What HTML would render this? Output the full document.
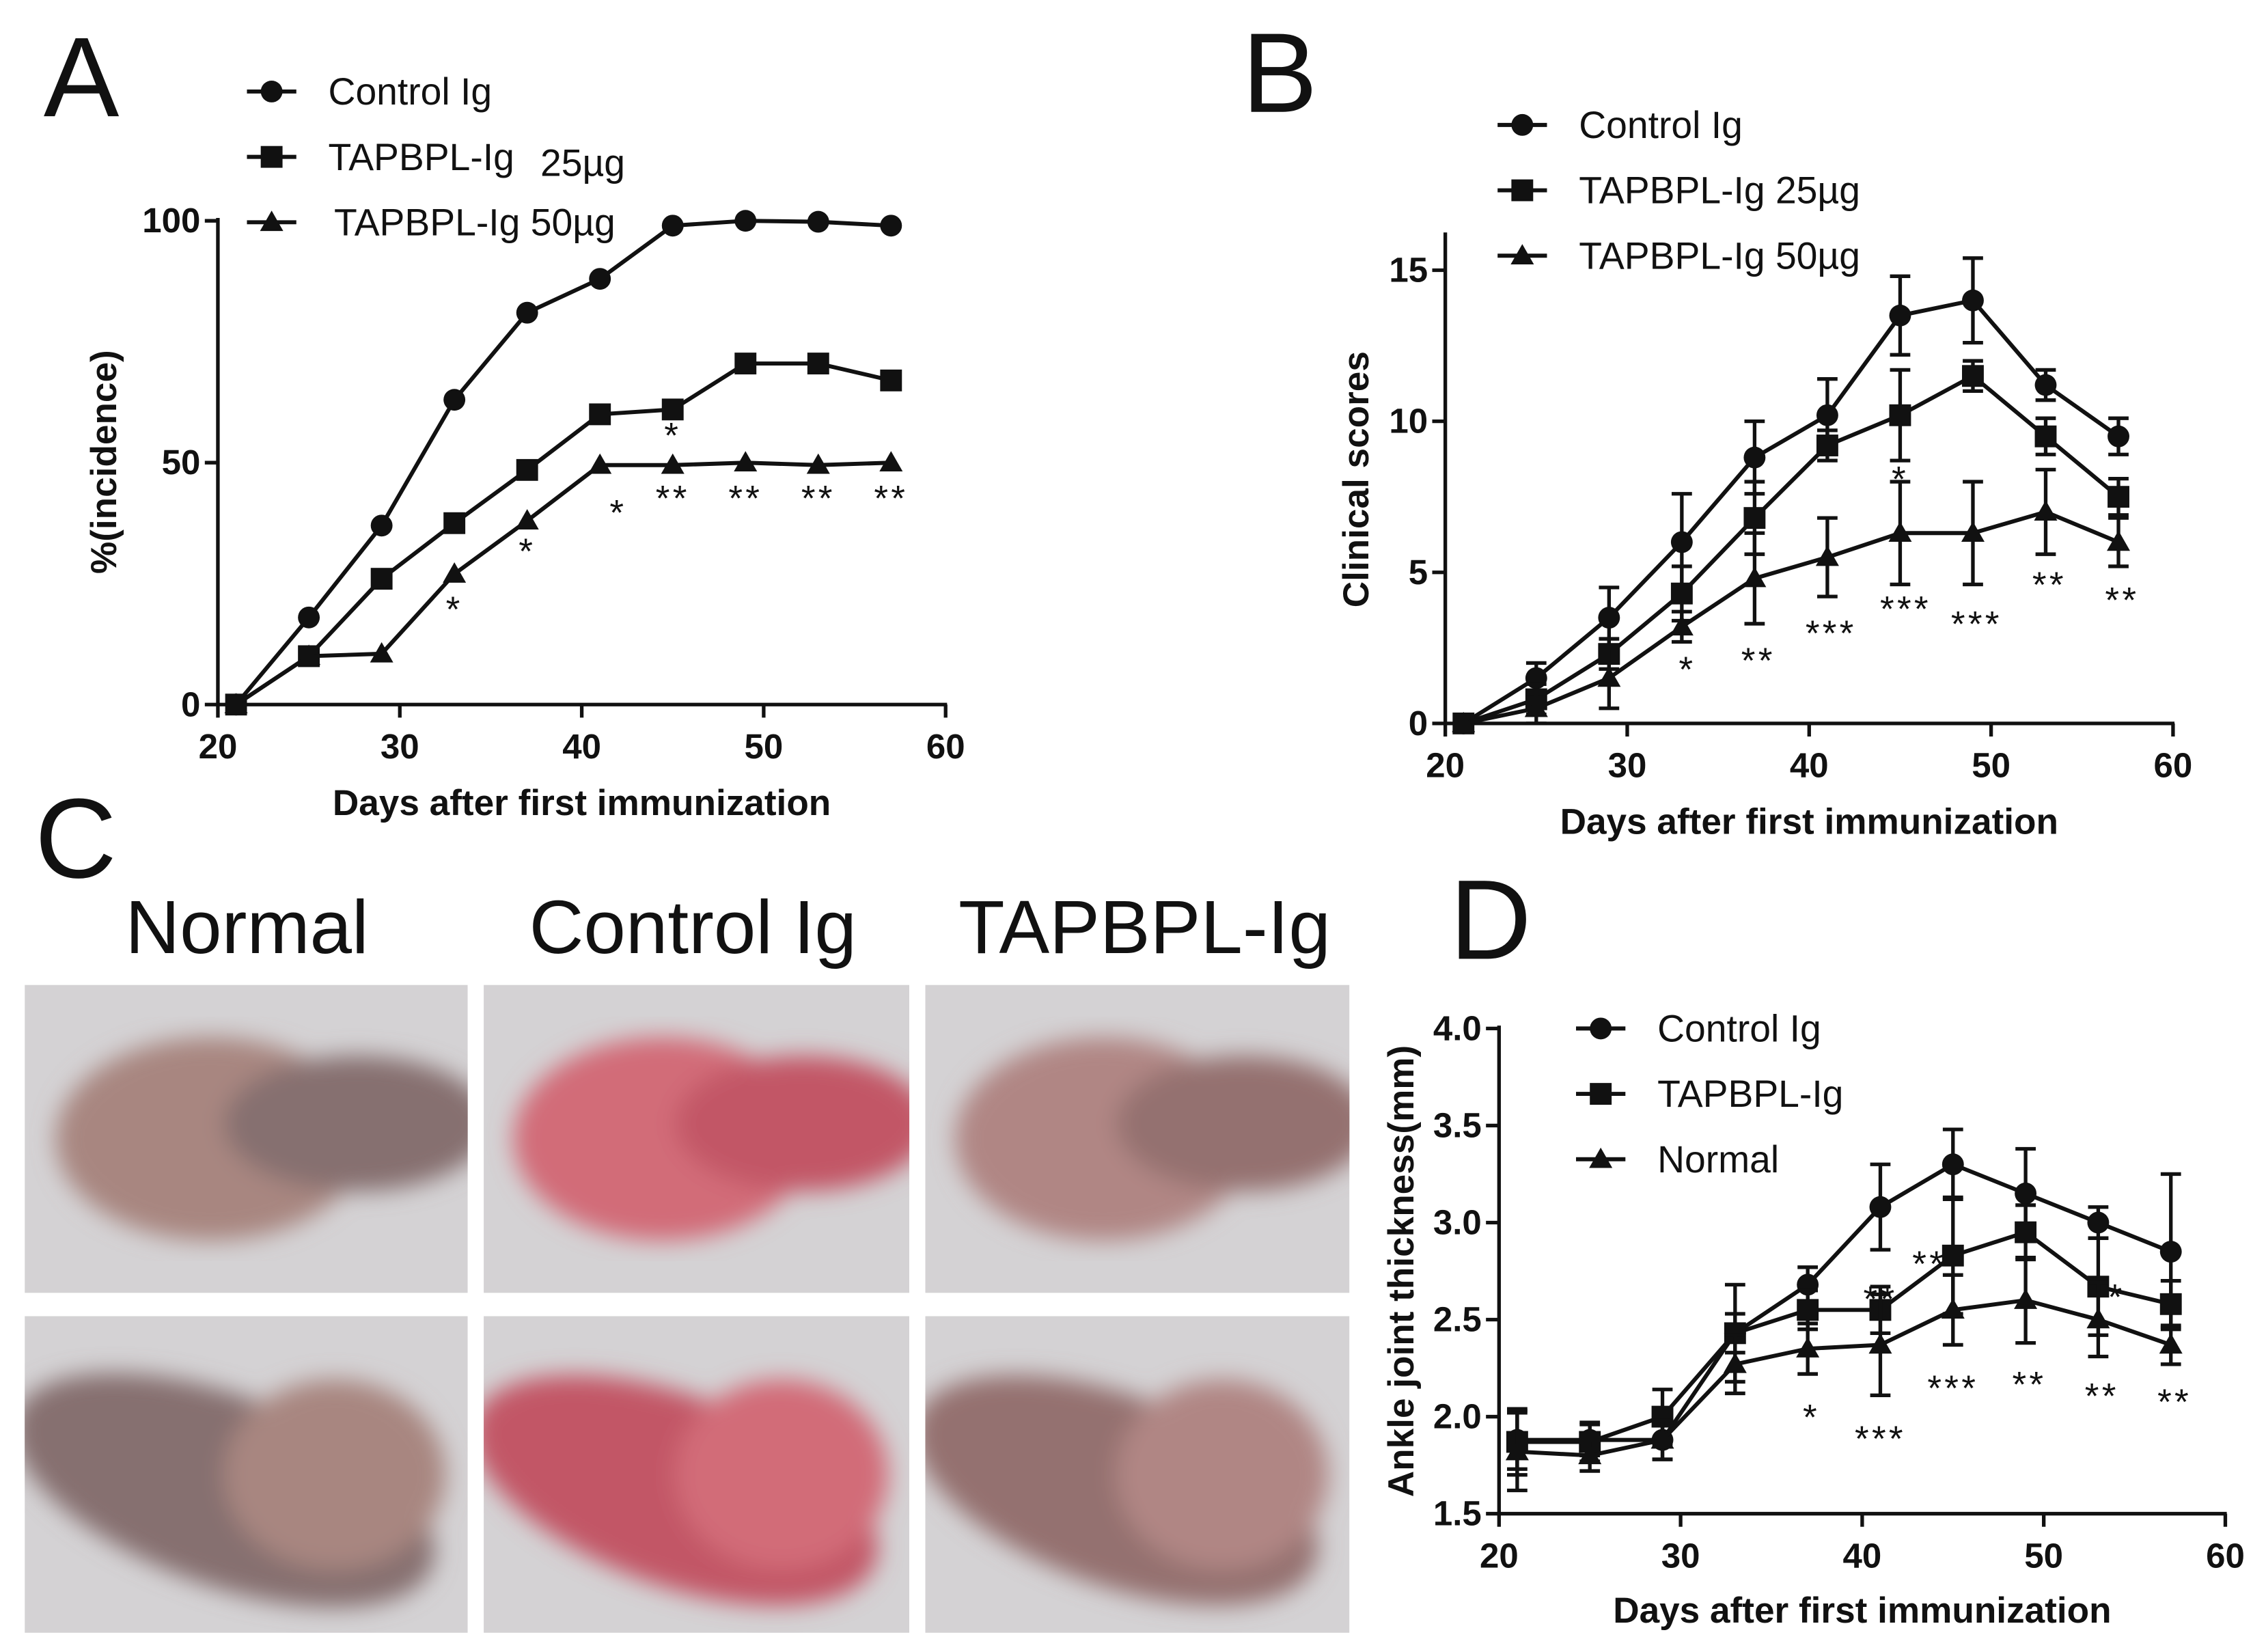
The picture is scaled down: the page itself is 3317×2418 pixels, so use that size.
<!DOCTYPE html>
<html><head><meta charset="utf-8"><style>
html,body{margin:0;padding:0;background:#fff;}
svg{display:block;}
text{font-family:"Liberation Sans",sans-serif;fill:#111;}
</style></head><body>
<svg id="fig" width="3317" height="2418" viewBox="0 0 1560 1137.2" xmlns="http://www.w3.org/2000/svg">
<defs>
<filter id="blur8"><feGaussianBlur stdDeviation="8"/></filter>
</defs>
<g id="letters">
<text x="30" y="80" font-size="78">A</text>
<text x="855" y="77" font-size="78">B</text>
<text x="24" y="604" font-size="78">C</text>
<text x="998" y="660" font-size="78">D</text>
</g>
<g id="panelC">
<text x="170" y="656" font-size="52" text-anchor="middle">Normal</text>
<text x="477" y="656" font-size="52" text-anchor="middle">Control Ig</text>
<text x="788" y="656" font-size="52" text-anchor="middle">TAPBPL-Ig</text>
</g>
<g id="charts"></g>
</svg>
<script>
// ---------- data ----------
const days = [21,25,29,33,37,41,45,49,53,57];
// Panel A
const aControl = [0,18,37,63,81,88,99,100,99.8,99];
const a25 = [0,10,26,37.5,48.5,60,61,70.5,70.5,67];
const a50 = [0,10,10.5,27,38,49.5,49.5,50,49.5,50];
const aXTicks = [20,30,40,50,60];
const aYTicks = [0,50,100];
const aStarDays = [45,33,37,42,45,49,53,57];
const aStarVals = [57,21,33,41,44,44,44,44];
const aStarText = ["*","*","*","*","**","**","**","**"];
// Panel B
const bControl = [0,1.5,3.5,6,8.8,10.2,13.5,14,11.2,9.5];
const bControlErr = [0,0.5,1,1.6,1.2,1.2,1.3,1.4,0.5,0.6];
const b25 = [0,0.8,2.3,4.3,6.8,9.2,10.2,11.5,9.5,7.5];
const b25Err = [0,0.5,0.5,0.9,1.2,0.5,1.5,0.5,0.6,0.6];
const b50 = [0,0.5,1.5,3.2,4.8,5.5,6.3,6.3,7,6];
const b50Err = [0,0.5,1,0.5,1.5,1.3,1.7,1.7,1.4,0.8];
const bXTicks = [20,30,40,50,60];
const bYTicks = [0,5,10,15];
const bStarDays = [33.3,37.2,41.2,45.3,45,49.2,53.2,57.2];
const bStarVals = [2.0,2.3,3.2,4.0,8.3,3.5,4.8,4.3];
const bStarText = ["*","**","***","***","*","***","**","**"];
// Panel D
const dControl = [1.88,1.88,1.88,2.43,2.68,3.08,3.30,3.15,3.00,2.85];
const dControlErr = [0.15,0.08,0.1,0.25,0.09,0.22,0.18,0.23,0.08,0.4];
const dTap = [1.87,1.87,2.0,2.43,2.55,2.55,2.83,2.95,2.67,2.58];
const dTapErr = [0.17,0.1,0.14,0.1,0.1,0.12,0.3,0.14,0.25,0.12];
const dNormal = [1.82,1.80,1.88,2.27,2.35,2.37,2.55,2.60,2.50,2.37];
const dNormalErr = [0.2,0.08,0.1,0.15,0.13,0.26,0.18,0.22,0.19,0.1];
const dXTicks = [20,30,40,50,60];
const dYTicks = [1.5,2.0,2.5,3.0,3.5,4.0];
const dStarDays = [37.2,41,41,43.7,45,49.2,54,53.2,57.2];
const dStarVals = [2.03,2.64,1.92,2.82,2.18,2.2,2.65,2.14,2.11];
const dStarText = ["*","**","***","**","***","**","*","**","**"];

const NS = "http://www.w3.org/2000/svg";
const root = document.getElementById('charts');
function el(tag, attrs, parent){const e=document.createElementNS(NS,tag);for(const k in attrs)e.setAttribute(k,attrs[k]);(parent||root).appendChild(e);return e;}

function marker(g, shape, x, y){
  let m;
  if(shape==='circle'){m=el('circle',{cx:x,cy:y,r:7.5,fill:'#111'},g);}
  else if(shape==='square'){m=el('rect',{x:x-7.5,y:y-7.5,width:15,height:15,fill:'#111'},g);}
  else {m=el('polygon',{points:`${x},${y-8} ${x-8},${y+6} ${x+8},${y+6}`,fill:'#111'},g);}
  
  
  return m;
}

function chart(cfg){
  const g = el('g',{});
  
  
  const sx = d => cfg.x0 + (d-20)/(60-20)*(cfg.x1-cfg.x0);
  const sy = v => cfg.y0 + (v-cfg.ymin)/(cfg.ymax-cfg.ymin)*(cfg.y1-cfg.y0);
  const ya = el('line',{x1:cfg.x0,y1:cfg.y0+1,x2:cfg.x0,y2:cfg.ytop,stroke:'#111','stroke-width':2.5},g);
   
  const xa = el('line',{x1:cfg.x0-1,y1:cfg.y0,x2:cfg.x1+1,y2:cfg.y0,stroke:'#111','stroke-width':2.5},g);
   
  cfg.xticks.forEach(t=>{
    el('line',{x1:sx(t),y1:cfg.y0,x2:sx(t),y2:cfg.y0+9,stroke:'#111','stroke-width':2.5},g);
    const tx = el('text',{x:sx(t),y:cfg.y0+37,'font-size':24,'font-weight':'bold','text-anchor':'middle'},g);
    tx.textContent = t;
     
  });
  cfg.yticks.forEach(t=>{
    el('line',{x1:cfg.x0-9,y1:sy(t),x2:cfg.x0,y2:sy(t),stroke:'#111','stroke-width':2.5},g);
    const tx = el('text',{x:cfg.x0-12,y:sy(t)+8,'font-size':24,'font-weight':'bold','text-anchor':'end'},g);
    tx.textContent = cfg.yfmt ? cfg.yfmt(t) : t;
     
  });
  const xl = el('text',{x:(cfg.x0+cfg.x1)/2,y:cfg.xlabelY,'font-size':25,'font-weight':'bold','text-anchor':'middle'},g);
  xl.textContent='Days after first immunization';
   
  const yl = el('text',{x:0,y:0,'font-size':25,'font-weight':'bold','text-anchor':'middle',transform:`translate(${cfg.ylabelX},${cfg.ylabelY}) rotate(-90)`},g);
  yl.textContent=cfg.ylabel;
   
  cfg.series.forEach(s=>{
    const sg = el('g',{},g);
    
    
    const pts = s.vals.map((v,i)=>`${sx(days[i])},${sy(v)}`).join(' ');
    el('polyline',{points:pts,fill:'none',stroke:'#111','stroke-width':2.8},sg);
    if(s.err){
      s.vals.forEach((v,i)=>{
        const e=s.err[i]; if(!e) return;
        const x=sx(days[i]);
        const eb = el('path',{d:`M${x},${sy(v-e)}V${sy(v+e)}M${x-7},${sy(v-e)}H${x+7}M${x-7},${sy(v+e)}H${x+7}`,stroke:'#111','stroke-width':2.5,fill:'none'},sg);
         
      });
    }
    s.vals.forEach((v,i)=>marker(sg,s.shape,sx(days[i]),sy(v)));
  });
  cfg.starDays.forEach((d,i)=>{
    const t = el('text',{x:sx(d),y:sy(cfg.starVals[i])+13,'font-size':25,'text-anchor':'middle','letter-spacing':2},g);
    t.textContent = cfg.starText[i];
     
  });
  cfg.series.forEach((s,i)=>{
    const ly = cfg.legY + i*cfg.legGap;
    const lg = el('g',{},g);
     
    el('line',{x1:cfg.legX-17,y1:ly,x2:cfg.legX+17,y2:ly,stroke:'#111','stroke-width':2.8},lg);
    marker(lg,s.shape,cfg.legX,ly);
    const tx = el('text',{x:cfg.legX+(s.tdx||39),y:ly+(s.tdy||9),'font-size':26},lg);
    tx.textContent = s.label;
  });
}

chart({name:'panel-a-incidence-chart',x0:150,x1:651,y0:485,y1:152,ymin:0,ymax:100,ytop:150,
  xticks:aXTicks,yticks:aYTicks,xlabelY:561,ylabel:'%(incidence)',ylabelX:80,ylabelY:318,
  series:[{key:'control',shape:'circle',vals:aControl,label:'Control Ig'},
          {key:'25ug',shape:'square',vals:a25,label:'TAPBPL-Ig'},
          {key:'50ug',shape:'triangle',vals:a50,label:'TAPBPL-Ig 50\u00b5g',tdx:43}],
  starDays:aStarDays,starVals:aStarVals,starText:aStarText,legX:187,legY:63,legGap:45});
(function(){const t=el('text',{x:372,y:121,'font-size':26});t.textContent='25\u00b5g';
 })();

chart({name:'panel-b-clinical-scores-chart',x0:995,x1:1496,y0:498,y1:186,ymin:0,ymax:15,ytop:160,
  xticks:bXTicks,yticks:bYTicks,xlabelY:574,ylabel:'Clinical scores',ylabelX:942,ylabelY:330,
  series:[{key:'control',shape:'circle',vals:bControl,err:bControlErr,label:'Control Ig'},
          {key:'25ug',shape:'square',vals:b25,err:b25Err,label:'TAPBPL-Ig 25\u00b5g'},
          {key:'50ug',shape:'triangle',vals:b50,err:b50Err,label:'TAPBPL-Ig 50\u00b5g'}],
  starDays:bStarDays,starVals:bStarVals,starText:bStarText,legX:1048,legY:86,legGap:45});

chart({name:'panel-d-ankle-thickness-chart',x0:1032,x1:1532,y0:1042,y1:708,ymin:1.5,ymax:4.0,ytop:706,
  xticks:dXTicks,yticks:dYTicks,yfmt:t=>t.toFixed(1),xlabelY:1117,ylabel:'Ankle joint thickness(mm)',ylabelX:973,ylabelY:875,
  series:[{key:'control',shape:'circle',vals:dControl,err:dControlErr,label:'Control Ig'},
          {key:'tapbpl',shape:'square',vals:dTap,err:dTapErr,label:'TAPBPL-Ig'},
          {key:'normal',shape:'triangle',vals:dNormal,err:dNormalErr,label:'Normal'}],
  starDays:dStarDays,starVals:dStarVals,starText:dStarText,legX:1102,legY:708,legGap:45});

// Photos (panel C)
const photoCols = [[17,322],[333,626],[637,929]];
const photoRows = [[678,890],[906,1124]];
const pawColors = [['#86706f','#a88680'],['#c25766','#d26c78'],['#94716f','#b08684']];
const pc = document.getElementById('panelC');
photoRows.forEach((r,ri)=>photoCols.forEach((c,ci)=>{
  const g = el('g',{},pc);
   
  const w=c[1]-c[0], h=r[1]-r[0];
  const cp = el('clipPath',{id:`cp${ri}${ci}`},g);
  el('rect',{x:c[0],y:r[0],width:w,height:h},cp);
  const inner = el('g',{'clip-path':`url(#cp${ri}${ci})`},g);
  el('rect',{x:c[0],y:r[0],width:w,height:h,fill:'#d4d2d4'},inner);
  const blob = el('g',{filter:'url(#blur8)'},inner);
  if(ri===0){
    el('ellipse',{cx:c[0]+w*0.42,cy:r[0]+h*0.5,rx:w*0.35,ry:h*0.33,fill:pawColors[ci][1]},blob);
    el('ellipse',{cx:c[0]+w*0.75,cy:r[0]+h*0.45,rx:w*0.3,ry:h*0.22,fill:pawColors[ci][0]},blob);
  } else {
    el('ellipse',{cx:c[0]+w*0.45,cy:r[0]+h*0.55,rx:w*0.5,ry:h*0.3,fill:pawColors[ci][0],transform:`rotate(20 ${c[0]+w*0.45} ${r[0]+h*0.55})`},blob);
    el('ellipse',{cx:c[0]+w*0.7,cy:r[0]+h*0.5,rx:w*0.25,ry:h*0.3,fill:pawColors[ci][1]},blob);
  }
}));
</script>
</body></html>
